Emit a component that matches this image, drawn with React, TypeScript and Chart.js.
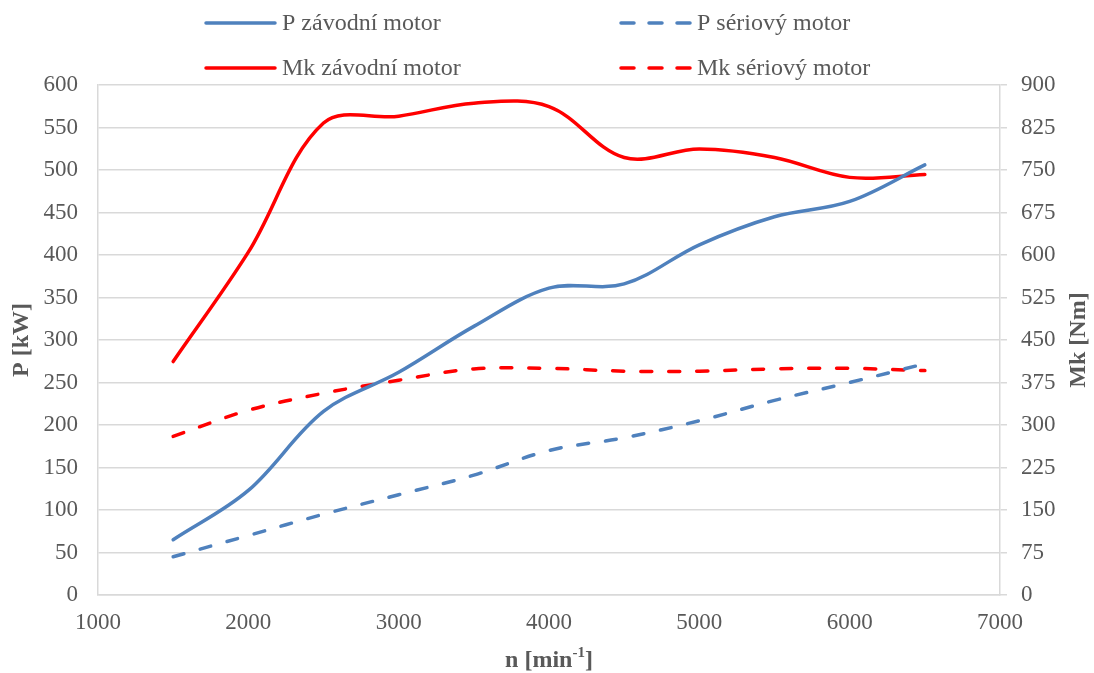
import React, { useEffect, useRef } from "react";
import { Chart, registerables } from "chart.js";

Chart.register(...registerables);

// ---------- data ----------
const rpm = [1500, 2000, 2500, 3000, 3500, 4000, 4500, 5000, 5500, 6000, 6500];
const pZavodni = [65, 123, 216, 262, 316, 361, 366, 412, 445, 463, 506];
const pSeriovy = [45, 70, 95, 118, 141, 170, 185, 205, 229, 250, 272];
const mkZavodni = [412, 605, 833, 845, 868, 862, 772, 787, 772, 737, 742];
const mkSeriovy = [280, 326, 356, 379, 399, 400, 395, 395, 399, 400, 396];

const seriesLabels = ["P závodní motor", "P sériový motor", "Mk závodní motor", "Mk sériový motor"];
const xTitle = "n [min";
const xTitleSup = "-1";
const leftTitle = "P [kW]";
const rightTitle = "Mk [Nm]";

const xMin = 1000, xMax = 7000, xStep = 1000;
const pMin = 0, pMax = 600, pStep = 50;
const mkMin = 0, mkMax = 900, mkStep = 75;

const BLUE = "#4F81BD";
const RED = "#FF0000";
const GRID = "#D9D9D9";
const TEXT = "#595959";
const FONT = '"Liberation Serif", "Times New Roman", serif';

const toPts = (ys: number[]) => rpm.map((x, i) => ({ x, y: ys[i] }));

const customPlugin = {
  id: "customDecor",
  afterDraw(chart: any) {
    const ctx: CanvasRenderingContext2D = chart.ctx;
    const area = chart.chartArea;
    ctx.save();
    // legend (2 x 2 grid)
    const cols = [206, 621];
    const rows = [23, 68];
    chart.data.datasets.forEach((ds: any, i: number) => {
      const x0 = cols[i % 2];
      const y = rows[Math.floor(i / 2)];
      ctx.beginPath();
      ctx.strokeStyle = ds.borderColor;
      ctx.lineWidth = 3.5;
      ctx.lineCap = "round";
      ctx.setLineDash(ds.borderDash && ds.borderDash.length ? [13, 15] : []);
      ctx.moveTo(x0, y);
      ctx.lineTo(x0 + 69, y);
      ctx.stroke();
      ctx.setLineDash([]);
      ctx.fillStyle = TEXT;
      ctx.font = `24px ${FONT}`;
      ctx.textAlign = "left";
      ctx.textBaseline = "middle";
      ctx.fillText(ds.label, x0 + 76, y + 1);
    });

    // right axis title, reading bottom-to-top
    ctx.save();
    ctx.translate(1079, (area.top + area.bottom) / 2);
    ctx.rotate(-Math.PI / 2);
    ctx.font = `bold 24px ${FONT}`;
    ctx.fillStyle = TEXT;
    ctx.textAlign = "center";
    ctx.textBaseline = "middle";
    ctx.fillText(rightTitle, 0, 0);
    ctx.restore();

    // x axis title with superscript
    const big = `bold 24px ${FONT}`;
    const small = `bold 15px ${FONT}`;
    ctx.font = big;
    const w1 = ctx.measureText(xTitle).width;
    const w3 = ctx.measureText("]").width;
    ctx.font = small;
    const w2 = ctx.measureText(xTitleSup).width;
    const total = w1 + w2 + w3;
    let x = (area.left + area.right) / 2 - total / 2;
    const y = 661;
    ctx.textAlign = "left";
    ctx.textBaseline = "middle";
    ctx.fillStyle = TEXT;
    ctx.font = big;
    ctx.fillText(xTitle, x, y);
    x += w1;
    ctx.font = small;
    ctx.fillText(xTitleSup, x, y - 8);
    x += w2;
    ctx.font = big;
    ctx.fillText("]", x, y);
    ctx.restore();
  },
};

export default function App() {
  const canvasRef = useRef<HTMLCanvasElement | null>(null);

  useEffect(() => {
    document.body.style.margin = "0";
    const canvas = canvasRef.current;
    if (!canvas) return;
    Chart.defaults.font.family = FONT;

    const chart = new Chart(canvas, {
      type: "line",
      data: {
        datasets: [
          {
            label: seriesLabels[0],
            data: toPts(pZavodni),
            yAxisID: "y",
            borderColor: BLUE,
            borderWidth: 3.5,
            borderDash: [],
          },
          {
            label: seriesLabels[1],
            data: toPts(pSeriovy),
            yAxisID: "y",
            borderColor: BLUE,
            borderWidth: 3.5,
            borderDash: [11, 17],
            borderCapStyle: "round",
          },
          {
            label: seriesLabels[2],
            data: toPts(mkZavodni),
            yAxisID: "y1",
            borderColor: RED,
            borderWidth: 3.5,
            borderDash: [],
          },
          {
            label: seriesLabels[3],
            data: toPts(mkSeriovy),
            yAxisID: "y1",
            borderColor: RED,
            borderWidth: 3.5,
            borderDash: [11, 17],
            borderCapStyle: "round",
          },
        ] as any,
      },
      options: {
        responsive: false,
        animation: false,
        maintainAspectRatio: false,
        layout: { padding: { top: 85, left: 0, right: 0, bottom: 0 } },
        elements: {
          point: { radius: 0, hoverRadius: 0 },
          line: { tension: 0.35, borderCapStyle: "round", borderJoinStyle: "round", fill: false },
        },
        plugins: {
          legend: { display: false },
          tooltip: { enabled: false },
          title: { display: false },
        },
        scales: {
          x: {
            type: "linear",
            min: xMin,
            max: xMax,
            grid: { display: false, drawTicks: false },
            border: { display: true, color: GRID, width: 1.5 },
            ticks: {
              stepSize: xStep,
              padding: 14,
              color: TEXT,
              font: { size: 23 },
              maxRotation: 0,
              callback: (v: any) => String(v),
            },
            afterFit: (s: any) => {
              s.height = 78;
            },
          },
          y: {
            type: "linear",
            position: "left",
            min: pMin,
            max: pMax,
            grid: { color: GRID, lineWidth: 1.5, drawTicks: false },
            border: { display: true, color: GRID, width: 1.5 },
            ticks: {
              stepSize: pStep,
              padding: 20,
              color: TEXT,
              font: { size: 23 },
              callback: (v: any) => String(v),
            },
            title: {
              display: true,
              text: leftTitle,
              color: TEXT,
              font: { size: 24, weight: "bold" },
              padding: { top: 7, bottom: 0 },
            },
            afterFit: (s: any) => {
              s.width = 98;
            },
          },
          y1: {
            type: "linear",
            position: "right",
            min: mkMin,
            max: mkMax,
            grid: { drawOnChartArea: false, drawTicks: true, tickLength: 7, color: GRID, lineWidth: 1.5 },
            border: { display: true, color: GRID, width: 1.5 },
            ticks: {
              stepSize: mkStep,
              padding: 14,
              color: TEXT,
              font: { size: 23 },
              callback: (v: any) => String(v),
            },
            afterFit: (s: any) => {
              s.width = 94;
            },
          },
        },
      } as any,
      plugins: [customPlugin],
    });

    return () => {
      chart.destroy();
    };
  }, []);

  return (
    <div style={{ width: 1094, height: 673 }}>
      <canvas ref={canvasRef} width={1094} height={673} style={{ display: "block", width: 1094, height: 673 }} />
    </div>
  );
}
